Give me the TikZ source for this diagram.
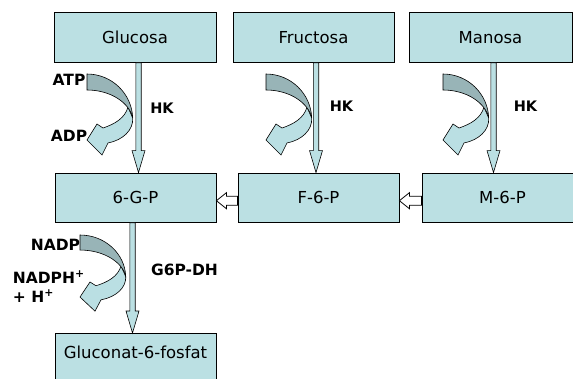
\documentclass[tikz,border=0pt]{standalone}
\usepackage{fontspec}
\setmainfont{DejaVu Sans}
\usetikzlibrary{calc}
\definecolor{boxfill}{RGB}{187,224,227}
\definecolor{bandback}{RGB}{186,223,227}
\definecolor{bandfront}{RGB}{152,180,183}
\begin{document}
\begin{tikzpicture}[x=1pt,y=-1pt,
  box/.style={draw=black, line width=0.8pt, fill=boxfill,
    minimum width=161pt, minimum height=50pt, inner sep=0pt,
    font=\fontsize{16.5}{19}\selectfont},
  lbl/.style={inner sep=0pt, font=\bfseries\fontsize{15.5}{19}\selectfont},
  hklbl/.style={inner sep=0pt, font=\bfseries\fontsize{14.5}{17}\selectfont},
  % thin light-blue block arrow pointing down
  fatdown/.style={draw=black, line width=0.6pt, fill=boxfill,
    to path={let \p1=(\tikztostart), \p2=(\tikztotarget) in
      (\x1-2.7pt,\y1) -- (\x1-2.7pt,\y2+22pt) -- (\x1-6.5pt,\y2+22pt)
      -- (\x1,\y2) -- (\x1+6.5pt,\y2+22pt) -- (\x1+2.7pt,\y2+22pt)
      -- (\x1+2.7pt,\y1) -- cycle}},
  % hollow block arrow pointing left
  fatleft/.style={draw=black, line width=0.8pt, fill=white,
    to path={let \p1=(\tikztostart), \p2=(\tikztotarget) in
      (\x1,\y1+4.5pt) -- (\x2+10pt,\y1+4.5pt) -- (\x2+10pt,\y1+8pt)
      -- (\x2,\y1) -- (\x2+10pt,\y1-8pt) -- (\x2+10pt,\y1-4.5pt)
      -- (\x1,\y1-4.5pt) -- cycle}},
  % curled cofactor arrow: dark front band, light back band with head
  pics/cofactor/.style={code={
    \path[draw=black, line width=0.6pt, fill=bandback]
      (41,33) -- (45.7,44) .. controls (46.5,56) and (36,66) .. (21,69)
      -- (15,81) -- (0,66) -- (10,50) -- (16,54)
      .. controls (28,50) and (38,44) .. (41,33) -- cycle;
    \path[draw=black, line width=0.6pt, fill=bandfront]
      (0,0) .. controls (25,0) and (45,20) .. (45.7,44)
      .. controls (43,30) and (25,16) .. (0,16) -- cycle;
  }}
]
\useasboundingbox (0,0) rectangle (573,378);
\clip (0,0) rectangle (573,378);

% sugars
\node[box, minimum width=162pt] (glu) at (135,37.5) {Glucosa};
\node[box] (fru) at (313.5,37.5) {Fructosa};
\node[box, minimum width=163pt] (man) at (490.5,37.5) {Manosa};

% phosphates
\node[box, minimum height=49.5pt] (g6p) at (135.5,197.7) {6-G-P};
\node[box, minimum height=49.5pt] (f6p) at (318.5,197.7) {F-6-P};
\node[box, minimum height=49.5pt] (m6p) at (502.5,197.7) {M-6-P};

% product box running off the bottom edge
\node[box, anchor=north, minimum height=0pt, text height=25pt, text depth=32pt]
  (glc) at (135.5,333) {Gluconat-6-fosfat};

% hexokinase steps
\coordinate (s1) at ([xshift=3.5pt]glu.south);
\coordinate (s2) at ([xshift=2.5pt]fru.south);
\coordinate (s3) at ([xshift=3pt]man.south);
\coordinate (s4) at ([xshift=-3pt]g6p.south);
\draw[fatdown] (s1) to (s1 |- g6p.north);
\draw[fatdown] (s2) to (s2 |- f6p.north);
\draw[fatdown] (s3) to (s3 |- m6p.north);
\draw[fatdown] (s4) to (s4 |- glc.north);

% isomerisations
\coordinate (h1) at ([yshift=-3pt]f6p.west);
\coordinate (h2) at ([yshift=-3pt]m6p.west);
\draw[fatleft] (h1) to (h1 -| g6p.east);
\draw[fatleft] (h2) to (h2 -| f6p.east);

% cofactors
\pic at (87,74) {cofactor};
\pic at (266,74) {cofactor};
\pic at (443,74) {cofactor};
\pic[yscale=0.94] at (80,235) {cofactor};

% labels
\node[lbl] (atp) at (69,80) {ATP};
\node[lbl] (adp) at (69,135.5) {ADP};
\node[hklbl] (hk1) at (162,108) {HK};
\node[hklbl] (hk2) at (341.5,106.5) {HK};
\node[hklbl] (hk3) at (525.5,106.5) {HK};
\node[lbl] (nadp) at (55.5,245) {NADP};
\node[lbl, align=left, anchor=base west] (nadph) at (12.7,302)
  {NADPH\textsuperscript{+}\\+ H\textsuperscript{+}};
\node[lbl] (g6pdh) at (184.5,270) {G6P-DH};
\end{tikzpicture}
\end{document}
